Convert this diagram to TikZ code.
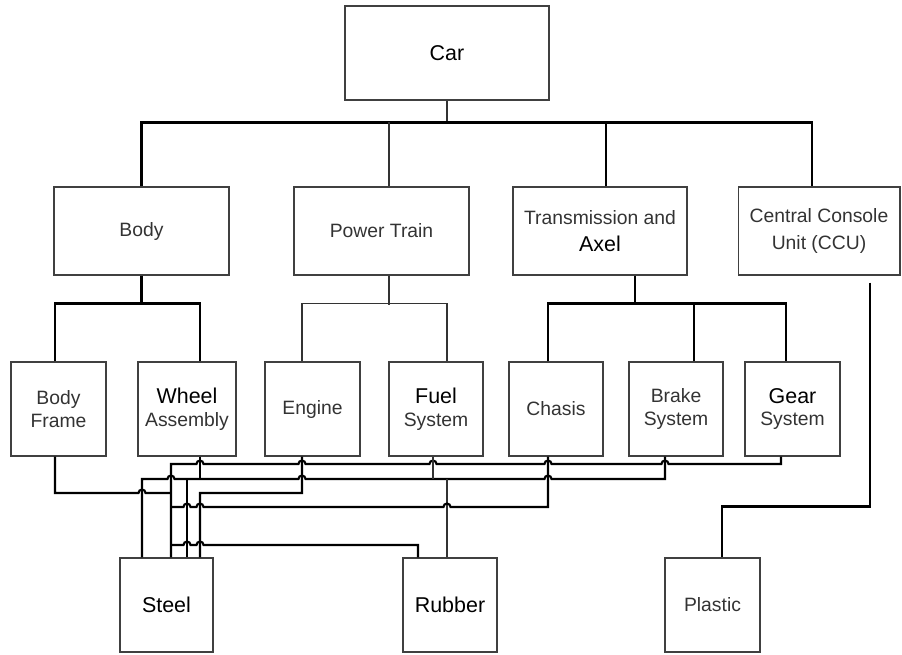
\documentclass[tikz,border=0pt]{standalone}
\usepackage{fontspec}
\setmainfont{Liberation Sans}
\usetikzlibrary{calc}
\tikzstyle{box} = [draw=black!75, line width=0.6pt, inner sep=0pt, align=center, text=black!80, font=\fontsize{11}{13}\selectfont]
\tikzstyle{wire} = [line width=1.2pt]
\tikzstyle{thinwire} = [line width=0.6pt, black!80]
\newcommand{\darkword}[1]{{\fontsize{12.2}{13}\selectfont\color{black}#1}}
\newcommand{\hopr}[2]{-- ({#1-3.5},#2) arc[start angle=180,end angle=0,radius=2pt]}
\newcommand{\hopl}[2]{-- ({#1+3.5},#2) arc[start angle=0,end angle=180,radius=2pt]}

\begin{document}
\begin{tikzpicture}[x=0.02cm,y=-0.02cm]
    \useasboundingbox (0,0) rectangle (902,654);
    \node[box, minimum width=4.08cm, minimum height=1.88cm] (car) at (447,53) {\darkword{Car}};
    \node[box, minimum width=3.5cm, minimum height=1.76cm] (body) at (141.5,231) {Body};
    \node[box, minimum width=3.5cm, minimum height=1.76cm] (power) at (381.5,231) {Power Train};
    \node[box, minimum width=3.48cm, minimum height=1.76cm] (trans) at (600,231)
        {Transmission and\\[2pt]\darkword{Axel}};
    \node[box, minimum width=3.24cm, minimum height=1.76cm] (ccu) at (819,231)
        {Central Console\\[2pt]Unit (CCU)};
    \node[box, minimum width=1.9cm, minimum height=1.88cm] (frame) at (58.5,409) {Body\\Frame};
    \node[box, minimum width=1.96cm, minimum height=1.88cm] (wheel) at (187,409) {\darkword{Wheel}\\Assembly};
    \node[box, minimum width=1.9cm, minimum height=1.88cm] (engine) at (312.5,409) {Engine};
    \node[box, minimum width=1.88cm, minimum height=1.88cm] (fuel) at (436,409) {\darkword{Fuel}\\System};
    \node[box, minimum width=1.88cm, minimum height=1.88cm] (chasis) at (556,409) {Chasis};
    \node[box, minimum width=1.88cm, minimum height=1.88cm] (brake) at (676,409) {Brake\\System};
    \node[box, minimum width=1.9cm, minimum height=1.88cm] (gear) at (792.5,409) {\darkword{Gear}\\System};
    \node[box, minimum width=1.86cm, minimum height=1.88cm] (steel) at (166.5,605) {\darkword{Steel}};
    \node[box, minimum width=1.88cm, minimum height=1.88cm] (rubber) at (450,605) {\darkword{Rubber}};
    \node[box, minimum width=1.9cm, minimum height=1.88cm] (plastic) at (712.5,605) {Plastic};

    \draw[thinwire] (car.south) -- ++(0,23);
    \draw[wire] (body.north) |- ($(ccu.north)+(-7,-64)$) -- ($(ccu.north)+(-7,0)$);
    \draw[thinwire] ($(power.north)+(7.5,0)$) -- ++(0,-64);
    \draw[wire] ($(trans.north)+(6,0)$) -- ++(0,-64);

    \draw[wire] (body.south) -- ++(0,29);
    \draw[wire] ($(frame.north)+(-3.5,0)$) |- ($(wheel.north)+(13,-58)$) -- ($(wheel.north)+(13,0)$);
    \draw[thinwire] ($(power.south)+(7.5,0)$) -- ++(0,29);
    \draw[thinwire] ($(engine.north)+(-10.5,0)$) |- ($(fuel.north)+(11,-58)$) -- ($(fuel.north)+(11,0)$);
    \draw[wire] ($(trans.south)+(35,0)$) -- ++(0,29);
    \draw[wire] ($(chasis.north)+(-8,0)$) |- ($(gear.north)+(-6.5,-58)$) -- ($(gear.north)+(-6.5,0)$);
    \draw[wire] ($(brake.north)+(18,0)$) -- ++(0,-58);

    \draw[wire] ($(frame.south)+(-3.5,0)$) -- (55,493) \hopr{142}{493} -- (171,493);
    \draw[wire] ($(gear.south)+(-11.5,0)$) -- (781,464) \hopl{665}{464} \hopl{548}{464} \hopl{433}{464}
        \hopl{302}{464} \hopl{200}{464} -- (171,464) -- ($(steel.north)+(4.5,0)$);
    \draw[wire] ($(brake.south)+(-11,0)$) -- (665,479) \hopl{548}{479} \hopl{302}{479} \hopl{171}{479}
        -- (142,479) -- ($(steel.north)+(-24.5,0)$);
    \draw[wire] ($(wheel.south)+(13,0)$) -- (200,479);
    \draw[wire] (187,479) -- ($(steel.north)+(20.5,0)$);
    \draw[wire] ($(engine.south)+(-10.5,0)$) -- (302,493) -- (200,493) -- ($(steel.north)+(33.5,0)$);
    \draw[thinwire] ($(fuel.south)+(-3,0)$) -- (433,479);
    \draw[thinwire] (447,479) -- ($(rubber.north)+(-3,0)$);
    \draw[wire] ($(chasis.south)+(-8,0)$) -- (548,507) \hopl{447}{507} \hopl{200}{507} \hopl{187}{507} -- (171,507);
    \draw[wire] (171,545) \hopr{187}{545} \hopr{200}{545} -- (418,545) -- ($(rubber.north)+(-32,0)$);
    \draw[wire] ($(ccu.south)+(51,7)$) |- ($(plastic.north)+(9.5,-51)$) -- ($(plastic.north)+(9.5,0)$);
\end{tikzpicture}
\end{document}
